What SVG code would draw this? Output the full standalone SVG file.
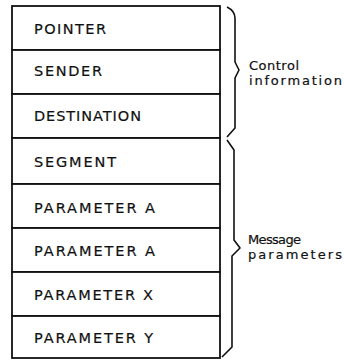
<svg xmlns="http://www.w3.org/2000/svg" width="344" height="360" viewBox="0 0 344 360">
<style>
.row rect{fill:#fff;stroke:#111;stroke-width:1.8}
.lbl{font-family:"DejaVu Sans",sans-serif;font-size:14.5px;fill:#111;stroke:#111;stroke-width:0.2}
.side{font-family:"DejaVu Sans",sans-serif;font-size:13px;fill:#111;stroke:#111;stroke-width:0.2}
.brace{fill:none;stroke:#111;stroke-width:1.6;stroke-linejoin:round}
</style>
<rect width="344" height="360" fill="#fff"/>
<g id="pointer" class="row"><rect x="12" y="6" width="208" height="44"/><text class="lbl" x="34" y="34" textLength="72" lengthAdjust="spacing">POINTER</text></g>
<g id="sender" class="row"><rect x="12" y="50" width="208" height="44"/><text class="lbl" x="34" y="76" textLength="68" lengthAdjust="spacing">SENDER</text></g>
<g id="destination" class="row"><rect x="12" y="94" width="208" height="44"/><text class="lbl" x="34" y="121" textLength="107" lengthAdjust="spacing">DESTINATION</text></g>
<g id="segment" class="row"><rect x="12" y="138" width="208" height="46"/><text class="lbl" x="34" y="167" textLength="82" lengthAdjust="spacing">SEGMENT</text></g>
<g id="parameter-a-1" class="row"><rect x="12" y="184" width="208" height="44"/><text class="lbl" x="34" y="213" textLength="121" lengthAdjust="spacing">PARAMETER A</text></g>
<g id="parameter-a-2" class="row"><rect x="12" y="228" width="208" height="44"/><text class="lbl" x="34" y="256" textLength="121" lengthAdjust="spacing">PARAMETER A</text></g>
<g id="parameter-x" class="row"><rect x="12" y="272" width="208" height="44"/><text class="lbl" x="34" y="300" textLength="119" lengthAdjust="spacing">PARAMETER X</text></g>
<g id="parameter-y" class="row"><rect x="12" y="316" width="208" height="42"/><text class="lbl" x="34" y="343" textLength="119" lengthAdjust="spacing">PARAMETER Y</text></g>
<g id="connectors">
<g id="control-brace"><path class="brace" d="M227,7 Q235,11 235,18 L235,62 L239,70 L235,78 L235,128 L227,137"/></g>
<g id="message-brace"><path class="brace" d="M227,140 L234,150 L234,240 L240,248 L232,256 L232,347 L222,357"/></g>
</g>
<g id="control-label"><text class="side" x="249" y="70" textLength="50" lengthAdjust="spacing">Control</text><text class="side" x="249" y="85" textLength="93" lengthAdjust="spacing">information</text></g>
<g id="message-label"><text class="side" x="248" y="244" textLength="53" lengthAdjust="spacing">Message</text><text class="side" x="248" y="259" textLength="94" lengthAdjust="spacing">parameters</text></g>
</svg>
